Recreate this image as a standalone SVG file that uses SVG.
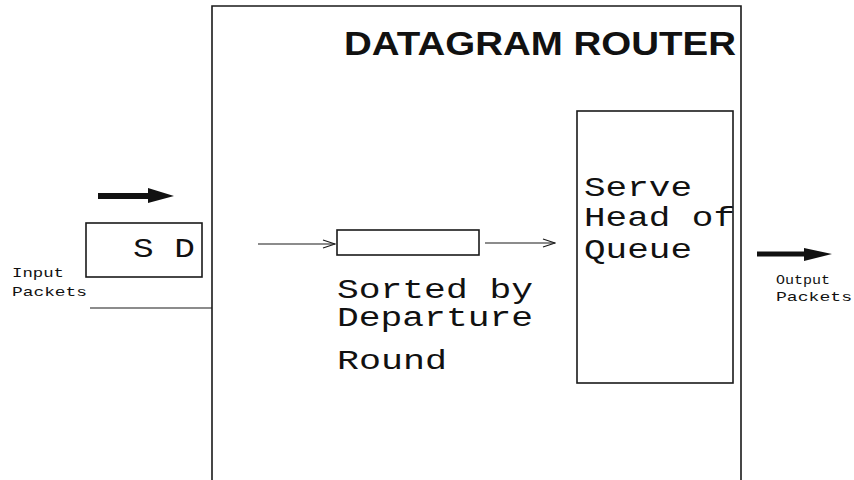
<svg xmlns="http://www.w3.org/2000/svg" width="854" height="480" viewBox="0 0 854 480">
  <style>
    .frame { fill: none; stroke: #1a1a1a; stroke-width: 1.6; }
    .box { fill: #fff; stroke: #1a1a1a; stroke-width: 1.6; }
    .thin { fill: none; stroke: #1a1a1a; stroke-width: 1.2; }
    .mono { font-family: "Liberation Mono", "Courier New", monospace; fill: #111; }
    .big { font-size: 27px; }
    .small { font-size: 13px; }
    .title { font-family: "Liberation Sans", Arial, Helvetica, sans-serif; font-weight: bold; font-size: 33px; fill: #111; }
    .fat { fill: #111; }
  </style>
  <defs>
    <marker id="open" markerWidth="14" markerHeight="10" refX="13" refY="5" orient="auto" markerUnits="userSpaceOnUse">
      <path d="M1,1 L13,5 L1,9" fill="none" stroke="#1a1a1a" stroke-width="1.2"/>
    </marker>
  </defs>

  <rect width="854" height="480" fill="#fff"/>

  <!-- router enclosure (open at the bottom) -->
  <g id="router">
    <path class="frame" d="M212,480 L212,6 L741,6 L741,480"/>
    <text class="title" x="736" y="55" text-anchor="end" textLength="392" lengthAdjust="spacingAndGlyphs">DATAGRAM ROUTER</text>
  </g>

  <!-- incoming packet -->
  <g id="packet">
    <rect class="box" x="86" y="223" width="116" height="54"/>
    <text class="mono big" x="133" y="257" textLength="62" lengthAdjust="spacingAndGlyphs">S D</text>
  </g>

  <g id="input-label">
    <text class="mono small" x="12" y="277" textLength="52" lengthAdjust="spacingAndGlyphs">Input</text>
    <text class="mono small" x="12" y="296" textLength="75" lengthAdjust="spacingAndGlyphs">Packets</text>
  </g>

  <!-- sorted queue -->
  <g id="queue">
    <rect class="box" x="337" y="230" width="142" height="25"/>
    <text class="mono big" x="337" y="298" textLength="196" lengthAdjust="spacingAndGlyphs">Sorted by</text>
    <text class="mono big" x="337" y="326" textLength="196" lengthAdjust="spacingAndGlyphs">Departure</text>
    <text class="mono big" x="337" y="369" textLength="110" lengthAdjust="spacingAndGlyphs">Round</text>
  </g>

  <!-- server -->
  <g id="server">
    <rect class="box" x="577" y="111" width="156" height="272"/>
    <text class="mono big" x="584" y="196" textLength="108" lengthAdjust="spacingAndGlyphs">Serve</text>
    <text class="mono big" x="584" y="226" textLength="151" lengthAdjust="spacingAndGlyphs">Head of</text>
    <text class="mono big" x="584" y="258" textLength="108" lengthAdjust="spacingAndGlyphs">Queue</text>
  </g>

  <g id="output-label">
    <text class="mono small" x="776" y="284" textLength="54" lengthAdjust="spacingAndGlyphs">Output</text>
    <text class="mono small" x="776" y="301" textLength="76" lengthAdjust="spacingAndGlyphs">Packets</text>
  </g>

  <!-- connectors -->
  <g id="connectors">
    <line class="thin" x1="90" y1="308" x2="212" y2="308"/>
    <line class="thin" x1="258" y1="244" x2="335" y2="244" marker-end="url(#open)"/>
    <line class="thin" x1="485" y1="243" x2="555" y2="243" marker-end="url(#open)"/>
    <!-- heavy flow arrows -->
    <path class="fat" d="M98,193 L148,193 L148,188 L174,196 L148,203 L148,199 L98,199 Z"/>
    <path class="fat" d="M757,251.5 L804,251.5 L804,248 L832,254 L804,261 L804,256.5 L757,256.5 Z"/>
  </g>
</svg>
